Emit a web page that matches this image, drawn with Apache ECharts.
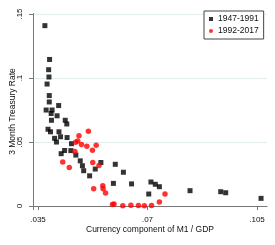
<!DOCTYPE html>
<html><head><meta charset="utf-8">
<script src="https://cdn.jsdelivr.net/npm/echarts@6/dist/echarts.min.js"></script>
<style>html,body{margin:0;padding:0;background:#fff}#c{width:275px;height:245px}</style>
</head><body><div id="c"></div>
<script>
const seriesNames = ["1947-1991", "1992-2017"];
const xTicks = [0.035, 0.07, 0.105];
const yTicks = [0, 0.05, 0.1, 0.15];
const xTitle = "Currency component of M1 / GDP";
const yTitle = "3 Month Treasury Rate";

const xEarly = [.0372,.0387,.0384,.0385,.0379,.0386,.0386,.0416,.0376,.0395,.0392,.0411,.0393,.0437,.0442,.0382,.0390,.0417,.0403,.0422,.0443,.0409,.0457,.0424,.0435,.0455,.0471,.0485,.0492,.0496,.0515,.0533,.0551,.0597,.0623,.0591,.0649,.0711,.0725,.0738,.0704,.0836,.0934,.0950,.1063];
const yEarly = [.1409,.1145,.1065,.1008,.0953,.0863,.0813,.0785,.0750,.0750,.0723,.0705,.0670,.0670,.0641,.0600,.0580,.0580,.0529,.0541,.0535,.0500,.0487,.0409,.0434,.0433,.0398,.0353,.0315,.0276,.0236,.0289,.0340,.0326,.0264,.0177,.0173,.0188,.0170,.0151,.0094,.0120,.0112,.0104,.0060];
const xLate = [.0481,.0511,.0470,.0477,.0489,.0506,.0536,.0524,.0468,.0429,.0450,.0525,.0545,.0528,.0557,.0558,.0566,.0588,.0593,.0621,.0647,.0671,.0690,.0713,.0738,.0756];
const yLate = [.0549,.0584,.0498,.0508,.0480,.0467,.0474,.0435,.0426,.0345,.0302,.0340,.0316,.0135,.0158,.0135,.0102,.0013,.0016,.0002,.0006,.0005,.0002,.0005,.0031,.0094];

const fmt = v => String(+v.toFixed(3)).replace(/^0\./, '.');
const pairs = (xs, ys) => xs.map((x, i) => [x, ys[i]]);
const FONT = '"Liberation Sans", Arial, sans-serif';
const TXT = '#111';

const chart = echarts.init(document.getElementById('c'), null, {renderer: 'canvas'});
chart.setOption({
  animation: false,
  backgroundColor: '#fff',
  textStyle: {fontFamily: FONT},
  grid: {left: 33, right: 8, top: 13.5, bottom: 35.5, containLabel: false, outerBoundsMode: 'none'},
  legend: {
    orient: 'vertical', left: 204, top: 11,
    data: [{name: seriesNames[0], icon: 'rect'}, {name: seriesNames[1], icon: 'circle'}],
    backgroundColor: '#fff', borderColor: '#444', borderWidth: 1,
    padding: [3, 5, 3, 5], itemGap: 2, itemWidth: 4, itemHeight: 4,
    itemStyle: {borderWidth: 0},
    textStyle: {fontSize: 8.5, lineHeight: 10, color: TXT, fontFamily: FONT}
  },
  xAxis: {
    type: 'value', min: 0.0334, max: 0.1082,
    name: xTitle, nameLocation: 'middle', nameGap: 15.5, nameMoveOverlap: false,
    nameTextStyle: {fontSize: 8.5, color: TXT, fontFamily: FONT},
    axisLine: {show: true, lineStyle: {color: '#777', width: 1}},
    axisTick: {show: true, length: 4, customValues: xTicks, lineStyle: {color: '#777'}},
    axisLabel: {customValues: xTicks, formatter: fmt, fontSize: 8, color: TXT, margin: 6, fontFamily: FONT},
    splitLine: {show: false}
  },
  yAxis: {
    type: 'value', min: -0.0027, max: 0.1504,
    name: yTitle, nameLocation: 'middle', nameGap: 16, nameRotate: 90, nameMoveOverlap: false,
    nameTextStyle: {fontSize: 8.5, color: TXT, fontFamily: FONT},
    axisLine: {show: true, lineStyle: {color: '#777', width: 1}},
    axisTick: {show: true, length: 4, customValues: yTicks, lineStyle: {color: '#777'}},
    axisLabel: {customValues: yTicks, formatter: fmt, fontSize: 8, color: TXT, margin: 9, rotate: 90, fontFamily: FONT},
    splitLine: {show: true, lineStyle: {color: '#e3ecee', width: 1}}
  },
  series: [
    {name: seriesNames[0], type: 'scatter', symbol: 'rect', symbolSize: 5,
     itemStyle: {color: '#000'}, data: pairs(xEarly, yEarly)},
    {name: seriesNames[1], type: 'scatter', symbol: 'circle', symbolSize: 5.5,
     itemStyle: {color: '#ff0000'}, data: pairs(xLate, yLate)}
  ]
});
</script></body></html>
